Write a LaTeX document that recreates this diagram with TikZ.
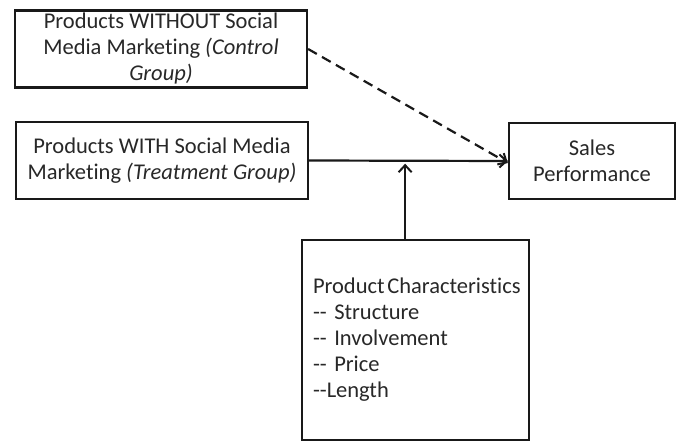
\documentclass[tikz,border=0pt]{standalone}
\usepackage{fontspec}
\setmainfont{Carlito}[Ligatures=NoCommon]
\usepackage{tikz}
\usetikzlibrary{arrows.meta, positioning, calc}
\definecolor{mydark}{RGB}{25,25,25}
\definecolor{mytext}{RGB}{40,40,40}
\tikzset{
  groupbox/.style={rectangle, draw=mydark, fill=white, line width=2.2pt,
    minimum width=292pt, minimum height=77pt, align=center, inner sep=0pt,
    text=mytext, font=\fontsize{22.5}{26}\selectfont},
  salesbox/.style={groupbox, minimum width=166pt, minimum height=76pt},
  charbox/.style={rectangle, draw=mydark, fill=white, line width=2.2pt,
    minimum width=227pt, minimum height=200pt, text width=205pt,
    inner xsep=11pt, align=left, text=mytext,
    font=\fontsize{22.5}{26}\selectfont},
  arrow/.style={-{Straight Barb[length=7pt,width=13pt,line width=2pt]}, line width=2.2pt, color=mydark},
  dasharrow/.style={arrow, dash pattern=on 10pt off 6pt}
}
\begin{document}
\begin{tikzpicture}[x=1pt, y=-1pt]
  \useasboundingbox (0,0) rectangle (681,441);

  \node[groupbox] (control) at (161, 49) {Products WITHOUT Social\\Media Marketing \textit{(Control}\\\textit{Group)}};
  \node[groupbox] (treat) at (162, 160.5) {Products WITH Social Media\\Marketing \textit{(Treatment Group)}};
  \node[salesbox] (sales) at (592, 161) {Sales\\Performance};
  \node[charbox] (chars) at (415.5, 340) {\mbox{Product\hspace{0.12em}Characteristics}\\-{}- Structure\\-{}- Involvement\\-{}- Price\\-{}-Length};

  % paths into sales performance
  \draw[dasharrow] (control.east) -- ([yshift=-2pt]sales.west);
  \draw[arrow] (treat.east) -- (sales.west);

  % moderator
  \coordinate (mod) at ($(treat.east)!0.483!(sales.west)$);
  \draw[arrow, shorten >=3pt] (chars.north -| mod) -- (mod);
\end{tikzpicture}
\end{document}
